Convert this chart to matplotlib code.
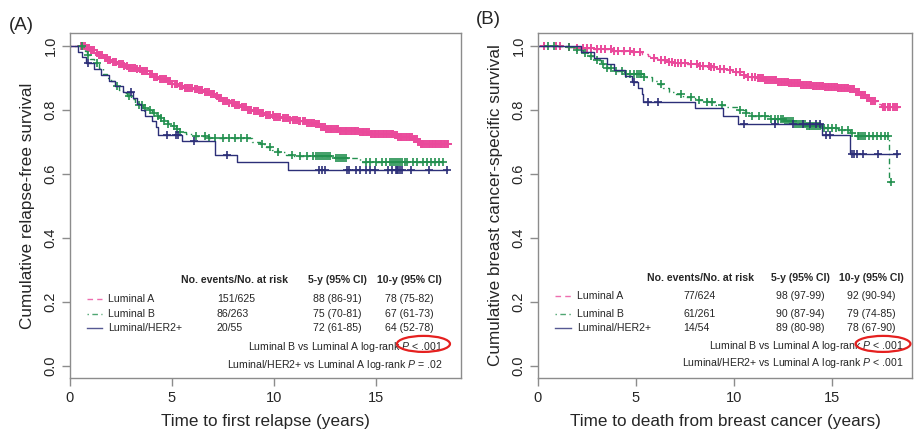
import numpy as np
import matplotlib
matplotlib.use("Agg")
import matplotlib.pyplot as plt
from matplotlib.patches import Ellipse

plt.rcParams['font.family'] = ['Liberation Sans', 'DejaVu Sans']
plt.rcParams['mathtext.fontset'] = 'custom'
plt.rcParams['mathtext.rm'] = 'Liberation Sans'
plt.rcParams['mathtext.it'] = 'Liberation Sans:italic'

# ---------------- Data: Panel A (relapse-free survival) ----------------
a_lumA_t = [0.6, 0.8, 1.0, 1.2, 1.4, 1.6, 1.8, 2.0, 2.3, 2.6, 2.9, 3.2, 3.5, 3.8, 4.1, 4.4, 4.7,
            5.0, 5.3, 5.6, 6.0, 6.3, 6.6, 6.9, 7.1, 7.3, 7.5, 7.8, 8.1, 8.4, 8.7, 9.0, 9.3, 9.6,
            10.0, 10.4, 10.8, 11.2, 11.6, 12.0, 12.3, 12.5, 13.2, 14.2, 14.7, 15.9, 16.1, 16.8,
            17.0, 17.2]
a_lumA_s = [0.998, 0.993, 0.987, 0.978, 0.970, 0.962, 0.955, 0.948, 0.942, 0.937, 0.932, 0.927,
            0.920, 0.912, 0.904, 0.896, 0.889, 0.882, 0.875, 0.869, 0.866, 0.862, 0.856, 0.850,
            0.843, 0.836, 0.829, 0.822, 0.815, 0.808, 0.801, 0.795, 0.790, 0.784, 0.779, 0.774,
            0.769, 0.764, 0.760, 0.755, 0.747, 0.740, 0.735, 0.730, 0.725, 0.720, 0.715, 0.708,
            0.700, 0.694]
a_lumA_end = 18.55
a_lumA_c = [0.55, 0.64, 0.72, 0.81, 0.93, 1.02, 1.08, 1.19, 1.32, 1.41, 1.47, 1.58, 1.71, 1.79,
            1.88, 1.97, 2.12, 2.19, 2.27, 2.38, 2.52, 2.59, 2.66, 2.78, 2.91, 2.99, 3.08, 3.17,
            3.29, 3.41, 3.52, 3.6, 3.68, 3.79, 3.91, 4.02, 4.12, 4.2, 4.28, 4.41, 4.53, 4.61,
            4.69, 4.8, 4.92, 5.01, 5.13, 5.2, 5.27, 5.39, 5.51, 5.62, 5.72, 5.8, 5.88, 5.99,
            6.12, 6.22, 6.33, 6.41, 6.48, 6.6, 6.71, 6.8, 6.92, 7.0, 7.08, 7.19, 7.31, 7.42,
            7.52, 7.6, 7.69, 7.81, 7.93, 8.02, 8.11, 8.2, 8.29, 8.41, 8.52, 8.62, 8.73, 8.81,
            8.89, 9.0, 9.12, 9.22, 9.31, 9.4, 9.48, 9.6, 9.72, 9.82, 9.93, 10.01, 10.09, 10.2,
            10.32, 10.42, 10.51, 10.6, 10.68, 10.8, 10.92, 11.02, 11.13, 11.21, 11.29, 11.4,
            11.52, 11.62, 11.71, 11.8, 11.88, 11.97, 12.07, 12.15, 12.22, 12.31, 12.41, 12.49,
            12.56, 12.64, 12.73, 12.79, 12.84, 12.93, 13.02, 13.09, 13.16, 13.24, 13.31, 13.39,
            13.47, 13.52, 13.58, 13.67, 13.76, 13.84, 13.91, 13.98, 14.04, 14.13, 14.22, 14.3,
            14.37, 14.43, 14.49, 14.57, 14.66, 14.74, 14.81, 14.89, 14.97, 15.02, 15.08, 15.17,
            15.26, 15.34, 15.41, 15.47, 15.53, 15.62, 15.72, 15.79, 15.86, 15.94, 16.02, 16.1,
            16.17, 16.22, 16.28, 16.38, 16.47, 16.54, 16.61, 16.69, 16.77, 16.85, 16.92, 16.99,
            17.06, 17.14, 17.21, 17.27, 17.33, 17.42, 17.52, 17.59, 17.66, 17.74, 17.81, 17.89,
            17.96, 18.04, 18.12, 18.18, 18.24, 18.33, 18.41, 18.48, 18.55]

a_lumB_t = [0.65, 0.75, 0.85, 1.0, 1.2, 1.4, 1.6, 1.8, 2.0, 2.2, 2.4, 2.6, 2.8, 3.0, 3.2, 3.4,
            3.6, 3.8, 4.0, 4.2, 4.4, 4.6, 4.8, 5.0, 5.2, 5.4, 5.7, 6.0, 6.8, 8.9, 9.3, 9.6, 9.9,
            10.2, 10.6, 11.0, 13.0, 14.2]
a_lumB_s = [0.996, 0.985, 0.970, 0.960, 0.945, 0.930, 0.912, 0.900, 0.890, 0.875, 0.863, 0.852,
            0.842, 0.833, 0.822, 0.814, 0.805, 0.798, 0.790, 0.782, 0.775, 0.766, 0.757, 0.749,
            0.740, 0.731, 0.724, 0.717, 0.713, 0.701, 0.693, 0.684, 0.676, 0.667, 0.660, 0.655,
            0.649, 0.638]
a_lumB_end = 18.3
a_lumB_c = [0.6, 0.9, 1.3, 2.3, 2.9, 3.4, 3.55, 3.7, 3.9, 4.1, 4.3, 4.45, 4.6, 4.8, 5.1, 5.25,
            5.4, 6.2, 6.6, 6.8, 7.1, 7.5, 7.8, 8.1, 8.4, 8.7, 9.4, 9.8, 10.2, 10.9, 11.3, 11.6,
            11.9, 12.05, 12.15, 12.25, 12.35, 12.45, 12.55, 12.65, 12.75, 13.05, 13.15, 13.25,
            13.35, 13.45, 13.55, 14.5, 14.7, 15.0, 15.3, 15.5, 15.7, 15.8, 15.9, 16.0, 16.1,
            16.2, 16.3, 16.4, 16.5, 16.8, 17.0, 17.3, 17.5, 17.7, 17.9, 18.1, 18.3]

a_her2_t = [0.4, 0.6, 0.8, 1.2, 1.5, 1.9, 2.2, 2.6, 3.1, 3.3, 3.5, 3.7, 4.0, 4.2, 4.3, 5.5,
            7.1, 8.2, 10.7]
a_her2_s = [0.982, 0.964, 0.945, 0.927, 0.909, 0.891, 0.873, 0.855, 0.836, 0.818, 0.800, 0.782,
            0.764, 0.745, 0.722, 0.703, 0.660, 0.637, 0.613]
a_her2_end = 18.5
a_her2_c = [0.9, 3.0, 4.75, 5.2, 5.3, 6.1, 7.7, 12.2, 12.35, 12.5, 13.6, 13.7, 14.0, 14.2,
            14.5, 14.7, 14.95, 15.6, 15.8, 16.0, 16.05, 16.1, 16.2, 16.3, 16.7, 17.6, 18.5]

# ---------------- Data: Panel B (breast cancer-specific survival) ----------------
b_lumA_t = [1.4, 2.0, 2.8, 3.8, 4.8, 5.3, 5.6, 5.9, 6.2, 6.6, 7.0, 7.6, 8.2, 8.8, 9.3, 9.8,
            10.1, 10.4, 10.7, 11.1, 11.6, 12.2, 12.8, 13.4, 14.0, 14.6, 15.3, 15.9, 16.2, 16.5,
            16.8, 17.0, 17.3, 17.5]
b_lumA_s = [0.997, 0.993, 0.989, 0.985, 0.981, 0.975, 0.968, 0.961, 0.955, 0.950, 0.946, 0.942,
            0.938, 0.934, 0.929, 0.924, 0.917, 0.910, 0.903, 0.898, 0.893, 0.888, 0.884, 0.879,
            0.875, 0.871, 0.868, 0.865, 0.857, 0.847, 0.837, 0.828, 0.818, 0.808]
b_lumA_end = 18.4
b_lumA_c = [0.3, 0.9, 1.1, 1.6, 2.0, 2.3, 2.5, 2.7, 3.0, 3.2, 3.4, 3.7, 3.9, 4.1, 4.4, 4.7,
            4.9, 5.2, 5.9, 6.3, 6.5, 6.7, 6.85, 7.0, 7.15, 7.3, 7.5, 7.8, 8.1, 8.25, 8.4, 8.7,
            8.85, 9.0, 9.3, 9.5, 9.8, 10.1, 10.3, 10.5, 10.7, 10.9, 11.05, 11.2, 11.3, 11.4,
            11.5, 11.6, 11.7, 11.8, 11.9, 12.0, 12.08, 12.15, 12.23, 12.3, 12.38, 12.45, 12.53,
            12.6, 12.68, 12.75, 12.83, 12.9, 12.98, 13.05, 13.13, 13.2, 13.28, 13.35, 13.43,
            13.5, 13.58, 13.65, 13.73, 13.8, 13.88, 13.95, 14.03, 14.1, 14.18, 14.25, 14.33,
            14.4, 14.48, 14.55, 14.63, 14.7, 14.78, 14.85, 14.93, 15.0, 15.08, 15.15, 15.23,
            15.3, 15.38, 15.45, 15.53, 15.6, 15.68, 15.75, 15.83, 15.9, 15.98, 16.05, 16.13,
            16.2, 16.3, 16.4, 16.5, 16.6, 16.7, 16.8, 16.9, 17.0, 17.1, 17.2, 17.6, 17.7, 17.85,
            17.95, 18.1, 18.2, 18.3]

b_lumB_t = [1.5, 2.0, 2.3, 2.6, 2.9, 3.2, 3.5, 3.9, 4.4, 5.4, 5.8, 6.1, 6.4, 6.7, 7.0, 7.4,
            8.0, 8.6, 9.0, 9.6, 10.2, 10.6, 10.9, 11.9, 12.6, 13.1, 13.7, 14.6, 15.3, 15.9, 16.2,
            17.9]
b_lumB_s = [0.995, 0.987, 0.978, 0.967, 0.955, 0.943, 0.932, 0.921, 0.912, 0.902, 0.890, 0.880,
            0.868, 0.857, 0.848, 0.840, 0.832, 0.823, 0.815, 0.808, 0.800, 0.790, 0.780, 0.772,
            0.765, 0.757, 0.749, 0.744, 0.737, 0.729, 0.719, 0.575]
b_lumB_end = 18.0
b_lumB_c = [0.5, 0.8, 1.6, 2.0, 2.4, 2.7, 3.0, 3.3, 3.5, 3.7, 4.0, 4.3, 4.5, 4.7, 4.9, 5.05,
            5.15, 5.25, 5.4, 6.3, 7.3, 7.8, 8.2, 8.6, 8.9, 9.4, 10.3, 10.6, 10.9, 11.3, 11.6,
            11.9, 12.1, 12.25, 12.4, 12.5, 12.6, 12.7, 12.8, 12.9, 13.0, 13.1, 13.2, 13.3, 13.4,
            13.5, 13.6, 13.7, 13.8, 13.9, 14.0, 14.1, 14.2, 14.3, 14.4, 14.6, 14.8, 15.0, 15.2,
            15.5, 15.8, 16.0, 16.3, 16.4, 16.5, 16.6, 16.7, 16.9, 17.1, 17.3, 17.5, 17.7, 17.85,
            18.0]

b_her2_t = [2.2, 2.85, 3.5, 3.9, 4.45, 4.8, 5.1, 5.3, 5.35, 8.0, 9.45, 10.2, 14.5, 15.9]
b_her2_s = [0.981, 0.963, 0.944, 0.925, 0.906, 0.887, 0.868, 0.849, 0.825, 0.806, 0.780, 0.757,
            0.722, 0.663]
b_her2_end = 18.35
b_her2_c = [4.9, 5.6, 6.1, 10.5, 12.1, 13.0, 13.5, 13.9, 14.2, 14.4, 14.7, 14.9, 16.0, 16.1,
            16.25, 16.6, 17.35, 18.3]

groups = ["Luminal A", "Luminal B", "Luminal/HER2+"]
a_events = ["151/625", "86/263", "20/55"]
a_5y = ["88 (86-91)", "75 (70-81)", "72 (61-85)"]
a_10y = ["78 (75-82)", "67 (61-73)", "64 (52-78)"]
b_events = ["77/624", "61/261", "14/54"]
b_5y = ["98 (97-99)", "90 (87-94)", "89 (80-98)"]
b_10y = ["92 (90-94)", "79 (74-85)", "78 (67-90)"]
a_logrank = ["Luminal B vs Luminal A log-rank $P$ < .001",
             "Luminal/HER2+ vs Luminal A log-rank $P$ = .02"]
b_logrank = ["Luminal B vs Luminal A log-rank $P$ < .001",
             "Luminal/HER2+ vs Luminal A log-rank $P$ < .001"]

# ---------------- Styles ----------------
colors = ["#EA4A9B", "#23904F", "#2C2F78"]
dashes = [(4, 3), (1, 2.5, 4, 2.5), None]
txt = "#262626"
spine_c = "#8C8C8C"

fig = plt.figure(figsize=(9.16, 4.30), dpi=100)
axA = fig.add_axes([70 / 916, 52 / 430, 391 / 916, 345 / 430])
axB = fig.add_axes([538 / 916, 52 / 430, 374 / 916, 345 / 430])


def surv_at(times, surv, t):
    tt = np.concatenate([[0.0], times])
    ss = np.concatenate([[1.0], surv])
    idx = np.searchsorted(tt, t, side="right") - 1
    return ss[idx]


def draw_curve(ax, times, surv, end, cens, color, dash, ms=5.5, mew=1.2):
    x = np.concatenate([[0.0], times, [end]])
    y = np.concatenate([[1.0], surv, [surv[-1]]])
    ln, = ax.step(x, y, where="post", color=color, lw=1.0)
    if dash is not None:
        ln.set_dashes(dash)
    c = np.asarray(cens)
    ax.plot(c, surv_at(np.asarray(times), np.asarray(surv), c), linestyle="none",
            marker="+", ms=ms, mew=mew, color=color)


def style_axes(ax, xmax, xlabel, ylabel):
    ax.set_xlim(0, xmax)
    ax.set_ylim(-0.0375, 1.040)
    ax.set_xticks([0, 5, 10, 15])
    ax.set_yticks([0.0, 0.2, 0.4, 0.6, 0.8, 1.0])
    ax.set_yticklabels(["0.0", "0.2", "0.4", "0.6", "0.8", "1.0"], rotation=90, va="center")
    ax.tick_params(axis="both", length=6, width=1, color=spine_c, labelsize=10.5,
                   labelcolor=txt, pad=3)
    for s in ax.spines.values():
        s.set_color(spine_c)
        s.set_linewidth(1.0)
    ax.set_xlabel(xlabel, fontsize=12.3, color=txt, labelpad=7)
    ax.set_ylabel(ylabel, fontsize=12.3, color=txt, labelpad=6)


def draw_table(ax, ys, xs, events, y5, y10, logrank, ell):
    fs = 7.6
    hy, r1, r2, r3, l1, l2 = ys
    xl0, xl1, xlab, xhead, xev, x5, x10, xr = xs
    ax.text(xhead, hy, "No. events/No. at risk", fontsize=fs, fontweight="bold",
            color=txt, va="center", ha="left")
    ax.text(x5, hy, "5-y (95% CI)", fontsize=fs, fontweight="bold", color=txt,
            va="center", ha="center")
    ax.text(x10, hy, "10-y (95% CI)", fontsize=fs, fontweight="bold", color=txt,
            va="center", ha="center")
    for i, ry in enumerate([r1, r2, r3]):
        ln, = ax.plot([xl0, xl1], [ry, ry], color=colors[i], lw=1.0, alpha=0.8,
                      clip_on=False)
        if dashes[i] is not None:
            ln.set_dashes(dashes[i])
        ax.text(xlab, ry, groups[i], fontsize=fs, color=txt, va="center", ha="left")
        ax.text(xev, ry, events[i], fontsize=fs, color=txt, va="center", ha="left")
        ax.text(x5, ry, y5[i], fontsize=fs, color=txt, va="center", ha="center")
        ax.text(x10, ry, y10[i], fontsize=fs, color=txt, va="center", ha="center")
    ax.text(xr, l1, logrank[0], fontsize=fs, color=txt, va="center", ha="right")
    ax.text(xr, l2, logrank[1], fontsize=fs, color=txt, va="center", ha="right")
    ax.add_patch(Ellipse(ell[:2], ell[2], ell[3], fill=False, edgecolor="#E5201F",
                         lw=1.6, clip_on=False, zorder=5))


# Panel A
draw_curve(axA, a_lumA_t, a_lumA_s, a_lumA_end, a_lumA_c, colors[0], dashes[0], 6, 1.4)
draw_curve(axA, a_lumB_t, a_lumB_s, a_lumB_end, a_lumB_c, colors[1], dashes[1])
draw_curve(axA, a_her2_t, a_her2_s, a_her2_end, a_her2_c, colors[2], dashes[2])
style_axes(axA, 19.17, "Time to first relapse (years)", "Cumulative relapse-free survival")
draw_table(axA, (0.269, 0.209, 0.163, 0.119, 0.059, 0.004),
           (0.83, 1.57, 1.86, 5.44, 7.2, 13.1, 16.65, 18.28),
           a_events, a_5y, a_10y, a_logrank, (17.33, 0.069, 2.6, 0.05))

# Panel B
draw_curve(axB, b_lumA_t, b_lumA_s, b_lumA_end, b_lumA_c, colors[0], dashes[0], 6, 1.4)
draw_curve(axB, b_lumB_t, b_lumB_s, b_lumB_end, b_lumB_c, colors[1], dashes[1])
draw_curve(axB, b_her2_t, b_her2_s, b_her2_end, b_her2_c, colors[2], dashes[2])
style_axes(axB, 19.08, "Time to death from breast cancer (years)",
           "Cumulative breast cancer-specific survival")
draw_table(axB, (0.275, 0.219, 0.1625, 0.119, 0.0625, 0.009),
           (0.87, 1.68, 1.99, 5.56, 7.4, 13.37, 17.0, 18.63),
           b_events, b_5y, b_10y, b_logrank, (17.6, 0.069, 2.8, 0.05))

fig.text(21 / 916, 1 - 26 / 430, "(A)", fontsize=13.5, color=txt, ha="center", va="center")
fig.text(488 / 916, 1 - 19 / 430, "(B)", fontsize=13.5, color=txt, ha="center", va="center")

fig.savefig("out.png", dpi=100)
